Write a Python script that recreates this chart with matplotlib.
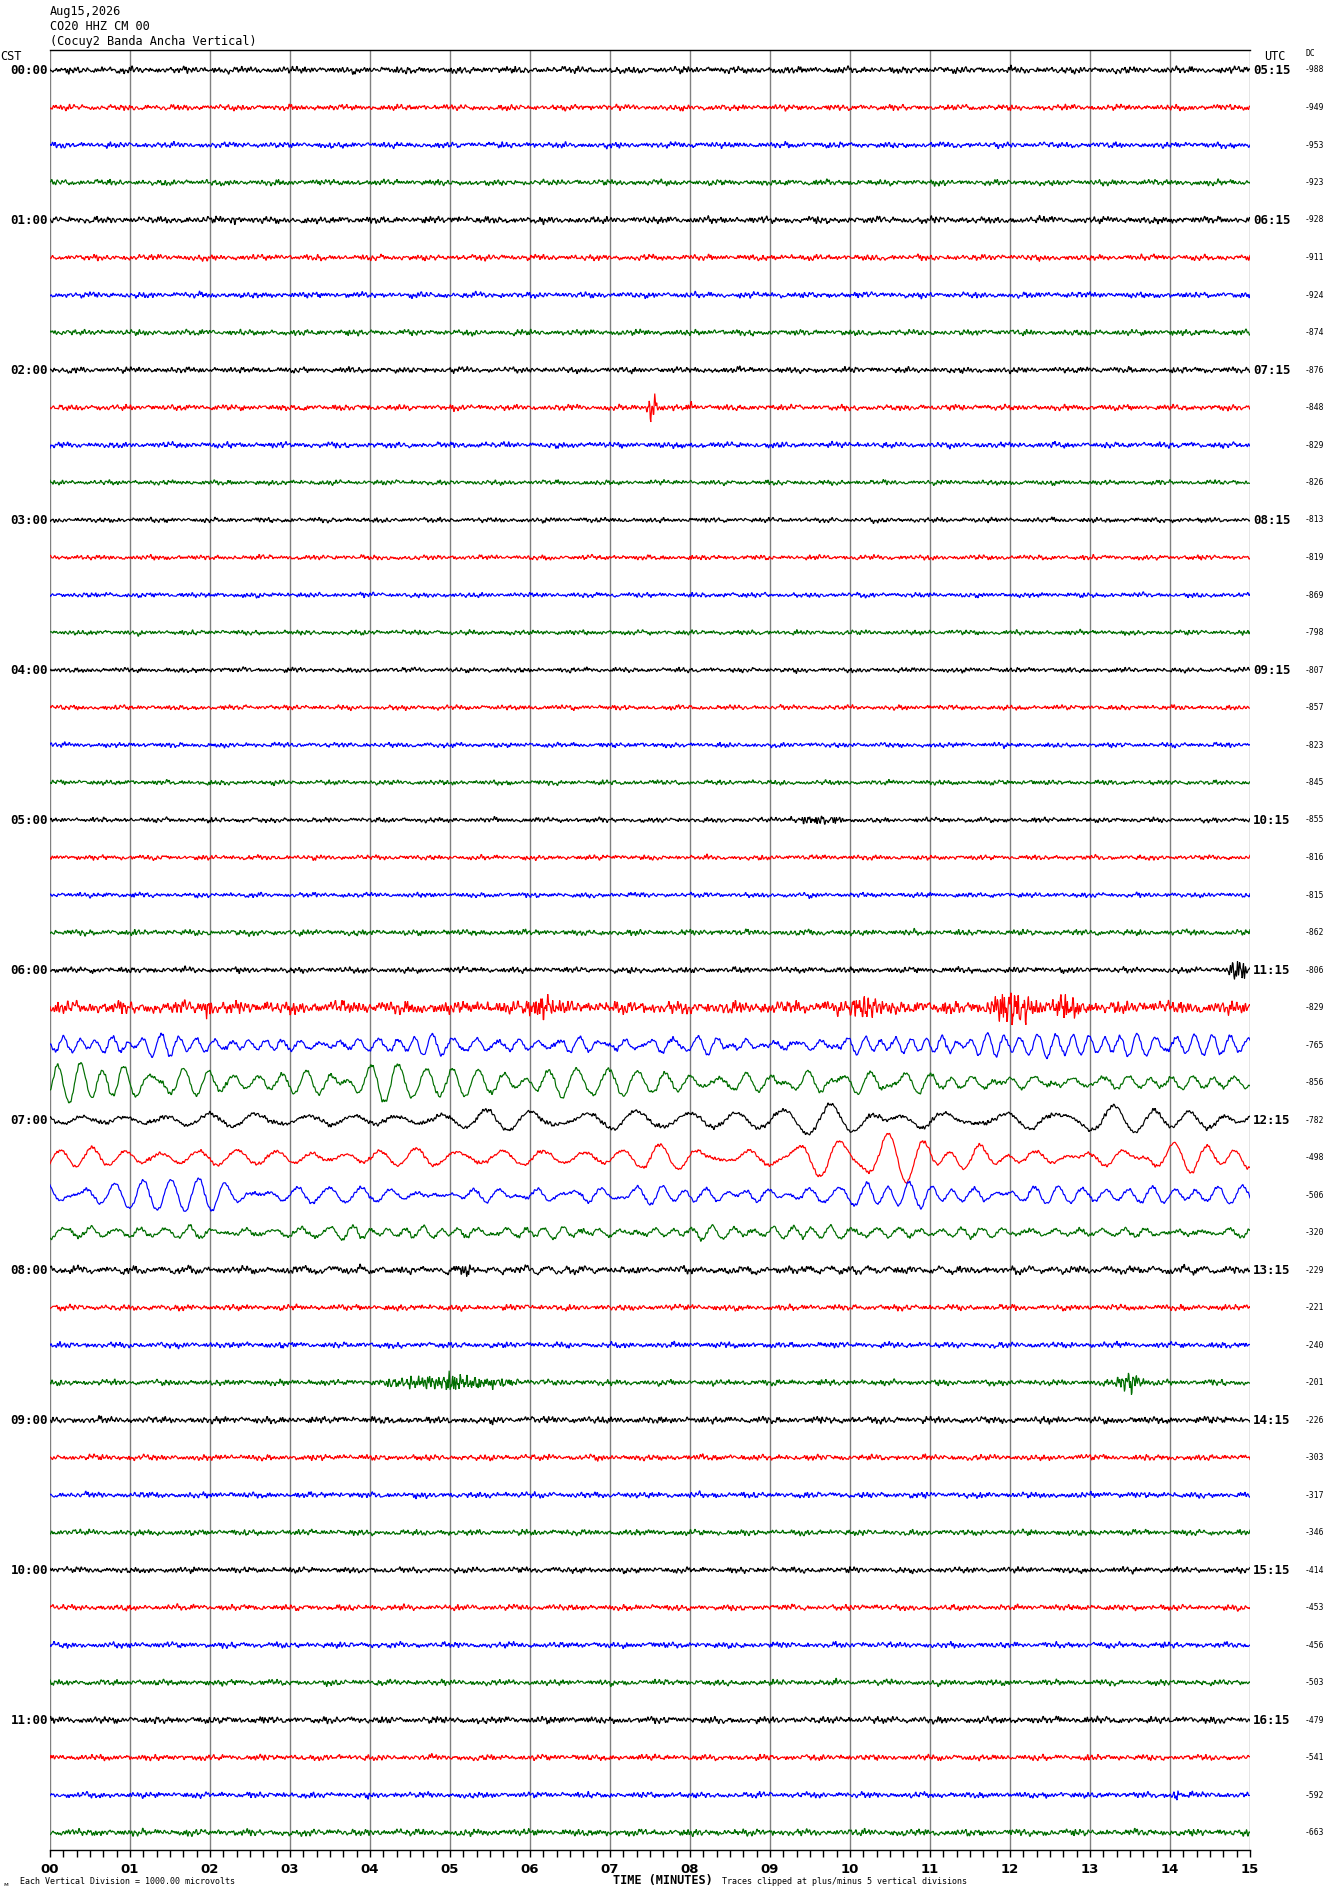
import numpy as np
import matplotlib
matplotlib.use("Agg")
import matplotlib.pyplot as plt

# ---------------- data ----------------
date_label = "Aug15,2026"
station_label = "CO20 HHZ CM 00"
site_label = "(Cocuy2 Banda Ancha Vertical)"
cst_hours = ["00:00", "01:00", "02:00", "03:00", "04:00", "05:00",
             "06:00", "07:00", "08:00", "09:00", "10:00", "11:00"]
utc_hours = ["05:15", "06:15", "07:15", "08:15", "09:15", "10:15",
             "11:15", "12:15", "13:15", "14:15", "15:15", "16:15"]
minute_labels = ["00", "01", "02", "03", "04", "05", "06", "07",
                 "08", "09", "10", "11", "12", "13", "14", "15"]
dc_offsets = [-988, -949, -953, -923, -928, -911, -924, -874,
              -876, -848, -829, -826, -813, -819, -869, -798,
              -807, -857, -823, -845, -855, -816, -815, -862,
              -806, -829, -765, -856, -782, -498, -506, -320,
              -229, -221, -240, -201, -226, -303, -317, -346,
              -414, -453, -456, -503, -479, -541, -592, -663]
trace_colors = ["#000000", "#ff0000", "#0000ff", "#006e00"]

# background noise level per trace (peak, in pixels of the reference)
noise_level = [3.5, 3, 3, 3, 3.5, 3, 3, 3,
               3, 3, 3, 2.5, 2.5, 2.5, 2.5, 2.5,
               2.5, 2.5, 2.5, 2.5, 2.5, 2.5, 2.5, 3,
               3, 6.5, 2.5, 2.5, 2.5, 2, 2, 2.5,
               3.5, 3, 3, 3, 3.5, 3, 3, 3,
               3, 3, 3, 3, 3.5, 3, 3, 3.5]

# long-period (microseism) amplitude per minute (peak px) for traces 26..32
long_period_env = {
    26: [7, 11, 7, 5, 11, 8, 7, 6, 6, 6, 7, 11, 15, 11, 14],
    27: [17, 16, 12, 13, 20, 13, 19, 15, 13, 16, 10, 7, 9, 5, 6],
    28: [5, 8, 7, 7, 6, 10, 8, 11, 12, 15, 12, 6, 9, 12, 15],
    29: [12, 10, 11, 5, 11, 8, 12, 13, 6, 16, 16, 16, 8, 12, 13],
    30: [10, 20, 11, 11, 5, 8, 9, 8, 8, 8, 11, 6, 10, 7, 12],
    31: [6, 5, 5, 6, 9, 5, 5, 5, 6, 6, 5, 4, 4, 4, 4],
    32: [2, 2, 2, 2, 2, 3, 2, 2, 2, 2, 2, 2, 2, 2, 2],
}
long_period_sec = {26: 15, 27: 20, 28: 35, 29: 28, 30: 20, 31: 17, 32: 18}

# local bursts: (trace, start minute, end minute, peak px)
bursts = [(9, 7.45, 7.6, 14), (9, 7.95, 8.05, 5),
          (20, 9.15, 10.0, 4),
          (24, 14.7, 15.0, 11),
          (25, 1.9, 2.05, 8), (25, 5.9, 6.4, 10), (25, 9.9, 10.5, 9),
          (25, 11.7, 12.4, 16), (25, 12.4, 13.0, 9),
          (35, 4.0, 6.0, 6), (35, 4.8, 5.1, 10), (35, 13.3, 13.7, 8),
          (32, 5.0, 5.3, 4), (4, 2.2, 2.4, 4), (46, 14.0, 14.2, 4)]

# ---------------- geometry ----------------
W, H = 1330, 1894
fig = plt.figure(figsize=(W / 100, H / 100), dpi=100)
left, right, top, bottom = 50, 1250, 50, 1850
spacing = 37.5
first_y = 70
ax = fig.add_axes([left / W, 1 - bottom / H, (right - left) / W, (bottom - top) / H])
n_tr = len(dc_offsets)
ax.set_xlim(0, 15)
ax.set_ylim((bottom - first_y) / spacing, -(first_y - top) / spacing)


def texture(t_sec, k, fmin, fmax, n=220):
    """Deterministic broadband wiggle texture (quasi-periodic sum of sines)."""
    g = 0.6180339887
    j = np.arange(1, n + 1)
    f = fmin + ((j * g + k * 0.318) % 1.0) * (fmax - fmin)
    ph = 2 * np.pi * ((j * j * 0.7548776662 + j * k * 0.5698402910 + k * 0.1234) % 1.0)
    out = np.sin(2 * np.pi * np.outer(t_sec, f) + ph).sum(axis=1)
    return out / out.std()


N = 2400
t = np.linspace(0, 15, N)
ts = t * 60.0
for i in range(n_tr):
    col = trace_colors[i % 4]
    y = noise_level[i] * 0.4 * (texture(ts, i + 1, 0.05, 0.66)
                                + 0.3 * texture(ts, i + 50, 0.004, 0.05, 40))
    if i in long_period_env:
        env = np.interp(t, np.arange(15) + 0.5, long_period_env[i])
        P = long_period_sec[i]
        wave = texture(ts, i + 90, 0.75 / P, 1.35 / P, 60) / 1.9
        y = y + env * wave
    for (tr, s, e, amp) in bursts:
        if tr == i:
            c = 0.5 * (s + e)
            hw = 0.5 * (e - s)
            w = np.clip(1 - np.abs(t - c) / hw, 0, 1) ** 0.7
            y = y + amp * 0.65 * w * texture(ts, i + 200 + int(s * 10), 0.12, 0.8, 120)
    y = np.clip(y, -5 * spacing, 5 * spacing)
    ax.plot(t, i - y / spacing, color=col, lw=0.85, solid_joinstyle="miter")

# grid
for m in range(16):
    ax.axvline(m, color="#808080", lw=1.0, zorder=0)

for s in ["left", "right"]:
    ax.spines[s].set_visible(False)
ax.spines["top"].set_color("black")
ax.spines["top"].set_linewidth(1.0)
ax.spines["bottom"].set_color("black")
ax.spines["bottom"].set_linewidth(1.0)
ax.set_yticks([])
ax.set_xticks(np.arange(16))
ax.set_xticks(np.arange(0, 15.01, 1 / 6), minor=True)
ax.tick_params(axis="x", which="both", direction="out", length=5, width=1, color="black")
ax.set_xticklabels(minute_labels, fontsize=9.5, fontweight="bold", family="DejaVu Sans")
ax.tick_params(axis="x", which="major", pad=4)


def fx(x):
    return x / W


def fy(y):
    return 1 - y / H


mono = "DejaVu Sans Mono"
fig.text(fx(50), fy(12), date_label, family=mono, fontsize=8.6, va="center", ha="left")
fig.text(fx(50), fy(26), station_label, family=mono, fontsize=8.6, va="center", ha="left")
fig.text(fx(50), fy(41), site_label, family=mono, fontsize=8.6, va="center", ha="left")
fig.text(fx(0), fy(57), "CST", family=mono, fontsize=8.6, va="center", ha="left")
fig.text(fx(1275), fy(56), "UTC", family=mono, fontsize=8.6, va="center", ha="center")
fig.text(fx(1306), fy(54), "DC", family=mono, fontsize=5.8, va="center", ha="left")

for h in range(len(cst_hours)):
    yy = first_y + 4 * h * spacing
    fig.text(fx(48), fy(yy), cst_hours[h], family=mono, fontsize=9, fontweight="bold",
             va="center", ha="right")
    fig.text(fx(1253), fy(yy), utc_hours[h], family=mono, fontsize=9, fontweight="bold",
             va="center", ha="left")

for i, dc in enumerate(dc_offsets):
    yy = first_y + i * spacing
    fig.text(fx(1305), fy(yy), str(dc), family=mono, fontsize=5.8, va="center", ha="left")

fig.text(fx(20), fy(1881), "Each Vertical Division = 1000.00 microvolts", family=mono,
         fontsize=6, va="center", ha="left")
fig.text(fx(613), fy(1880), "TIME (MINUTES)", family=mono, fontsize=8.6, fontweight="bold",
         va="center", ha="left")
fig.text(fx(722), fy(1881), "Traces clipped at plus/minus 5 vertical divisions", family=mono,
         fontsize=6, va="center", ha="left")
fig.text(fx(3), fy(1884), "\u1d0d", family="DejaVu Sans", fontsize=4.5, va="center", ha="left")

fig.savefig("out.png", dpi=100, facecolor="white")
